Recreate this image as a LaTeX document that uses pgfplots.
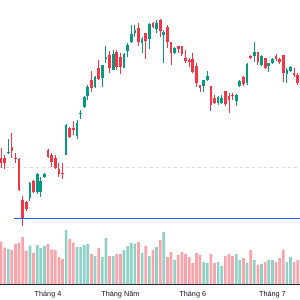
\documentclass[border=0pt]{standalone}
\usepackage{pgfplots}
\usepackage{pgfplotstable}
\usepackage{fontspec}
\setmainfont{Liberation Sans}
\pgfplotsset{compat=1.18}

\definecolor{upcol}{HTML}{089981}
\definecolor{downcol}{HTML}{F23645}
\definecolor{linecol}{rgb}{0.161,0.384,1.0}
\definecolor{dashgray}{HTML}{DCDCDC}
\definecolor{axisdark}{HTML}{2A2E39}
\definecolor{labeltext}{HTML}{131722}

% Daily candles: k = session index, O/H/L/C = prices, V = volume
\pgfplotstableread{
k  O     H    L     C    V
2  147   161  146.5 148  35
8  102   118  99    117  38.3
10 108   127  106   126  39
11 108   123  103   119  36
12 123   127  122   126  38
18 145   176  145   175  54
21 164   180  161   177  37
22 186   190  181   187  37
23 193   204  192   203  39
24 204   215  200   213  40
26 213   224  212   223  28
28 222   235  213   235  27
29 241   254  237   243  46
31 230   250  230   246  28
34 232   247  232   246  34
35 249   257  243   255  38
36 258   275  257   266  41
37 267   275  263   270  40.3
39 257   263  247   261  31
41 261   277  251   276  28
43 271   280  267   277  37
45 265   270  237   268  52
48 247   253  246   252  24
56 214   220  208   220  22
57 220   229  219   224  21
60 197   204  195   203  22
61 197   205  196   202  18
65 199   206  194   205  30
66 214   220  213   219  24
68 217   237  215   236  21.3
70 244   258  238   248  24
72 235   245  234   244  20
74 234   237  228   237  24
75 237   242  236   241  24
79 226   232  217   230  22
80 229   234  228   233  27
}\upcandles

\pgfplotstableread{
k  O     H    L     C     V
0  142   152  132   137   42.3
1  142   145  131   137   36.3
3  153   167  142   149   34
4  142   147  137   141   40
5  141   142  109   110   41.3
6  100   104  74    82    47
7  98    99   89    91    33.3
9  119   120  107   108   31
13 150   151  142   143   40
14 145   147  133   138   34.7
15 142   145  131   132   34
16 131   137  123   126   27
17 127.5 137  121   126.5 25
19 172   173  162   163   45
20 172   179  165   170   41.3
25 220   229  208   212   30
27 232   240  220   221   36
30 245   249  227   232   28
32 248   250  230   233   30
33 243   247  226   233   30
38 272   277  254   258   42
40 267   267  241   259   38.3
42 277   278  272   273   34
44 280   281  263   269   44
46 273   275  252   258   27
47 258   258  235   247   32
49 254   254  247   251   29
50 254   254  244   246   32
51 242   250  237   239   30
52 240   242  233   238   27
53 241   247  227   228   21
54 234   237  213   217   31
55 215   215  208   212   29
58 214   214  189   195   30
59 202   205  196   197   21
62 209   209  194   196   28
63 204   207  187   200   30
64 205   207  200   204   28
67 223   224  214   216   26
69 244   245  241   242   34
71 248   248  235   238   19.3
73 242   242  231   232   22
76 244   246  239   241   22
77 241   242  236   238   26
78 245   245  218   227   34.3
81 227   232  223   225   22
82 225   227  215   217   24
}\downcandles

\begin{document}
\begin{tikzpicture}
% price pane
\begin{axis}[
  at={(0,0)}, anchor=south west,
  width=300bp, height=300bp, scale only axis,
  xmin=-0.276, xmax=82.6, ymin=0, ymax=300,
  axis line style={draw=none},
  xtick=\empty, ytick=\empty,
]
\addplot[draw=dashgray, mark=none, line width=0.8bp, dash pattern=on 3bp off 3bp]
  coordinates {(-0.276,132.7) (82.6,132.7)};
% wicks (low to high)
\addplot[draw=upcol, mark=none, line width=0.9bp,
  quiver={u=0, v=\thisrow{H}-\thisrow{L}}]
  table[x=k, y=L] {\upcandles};
\addplot[draw=downcol, mark=none, line width=0.9bp,
  quiver={u=0, v=\thisrow{H}-\thisrow{L}}]
  table[x=k, y=L] {\downcandles};
% bodies (open to close)
\addplot[draw=upcol, mark=none, line width=2.7bp,
  quiver={u=0, v={max(abs(\thisrow{C}-\thisrow{O}),1)}}]
  table[x=k, y expr={min(\thisrow{O},\thisrow{C})}] {\upcandles};
\addplot[draw=downcol, mark=none, line width=2.7bp,
  quiver={u=0, v={max(abs(\thisrow{C}-\thisrow{O}),1)}}]
  table[x=k, y expr={min(\thisrow{O},\thisrow{C})}] {\downcandles};
% horizontal level line
\addplot[draw=linecol, mark=none, line width=1.3bp]
  coordinates {(3.6,81.7) (82.6,81.7)};
\end{axis}
% volume pane
\begin{axis}[
  at={(0,16bp)}, anchor=south west,
  width=300bp, height=284bp, scale only axis,
  xmin=-0.276, xmax=82.6, ymin=0, ymax=284,
  axis line style={draw=none},
  xtick={13,33,53,75},
  xticklabels={Tháng 4, Tháng Năm, Tháng 6, Tháng 7},
  major tick length=0pt,
  xticklabel style={anchor=base, yshift=-12bp, inner sep=0pt,
    font=\fontsize{7.3}{8}\selectfont, text=labeltext},
  ytick=\empty,
]
\addplot[ybar, bar width=0.75, bar shift=0pt, draw=none, fill=upcol, fill opacity=0.45]
  table[x=k, y=V] {\upcandles};
\addplot[ybar, bar width=0.75, bar shift=0pt, draw=none, fill=downcol, fill opacity=0.45]
  table[x=k, y=V] {\downcandles};
% time axis baseline
\addplot[draw=axisdark, mark=none, line width=1bp]
  coordinates {(-0.276,0) (82.6,0)};
\end{axis}
\end{tikzpicture}
\end{document}
